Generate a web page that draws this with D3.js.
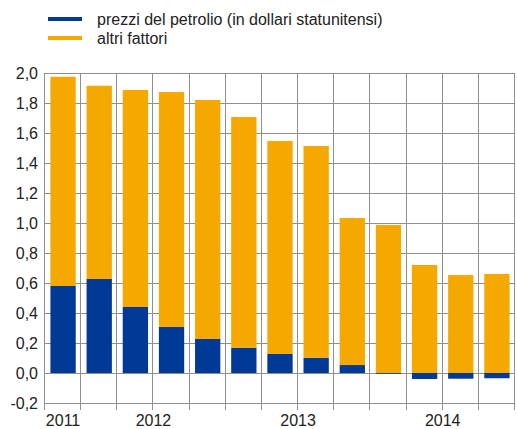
<!DOCTYPE html>
<html>
<head>
<meta charset="utf-8">
<script src="https://cdn.jsdelivr.net/npm/d3@7"></script>
<style>
  body { margin: 0; background: #fff; }
  svg { display: block; font-family: "Liberation Sans", Arial, sans-serif; }
</style>
</head>
<body>
<div id="chart"></div>
<script>

// periods (quarters), oil-price contribution and other factors
var periods = ["2011 T2", "2011 T3", "2011 T4", "2012 T1", "2012 T2", "2012 T3", "2012 T4",
               "2013 T1", "2013 T2", "2013 T3", "2013 T4", "2014 T1", "2014 T2"];
var oil = [0.58, 0.627, 0.44, 0.307, 0.227, 0.169, 0.127, 0.102, 0.053, -0.005, -0.04, -0.038, -0.035];
var other = [1.395, 1.288, 1.447, 1.566, 1.593, 1.538, 1.42, 1.411, 0.98, 0.987, 0.72, 0.653, 0.66];

var seriesNames = ["prezzi del petrolio (in dollari statunitensi)", "altri fattori"];
var seriesColors = ["#003a96", "#f5a800"];

var yTicks = [-0.2, 0, 0.2, 0.4, 0.6, 0.8, 1.0, 1.2, 1.4, 1.6, 1.8, 2.0];
// year labels: index of the period where the label is placed, and where (0 = left edge, 0.5 = centre)
var yearLabels = ["2011", "2012", "2013", "2014"];
var yearAt = [0, 3, 7, 11];
var yearOffset = [0.5, 0, 0, 0];

var width = 517, height = 429;
var margin = {top: 73, right: 2, bottom: 26, left: 45};

var svg = d3.select("#chart").append("svg")
  .attr("width", width)
  .attr("height", height);

var pad = 0.3;
var x = d3.scaleBand()
  .domain(periods)
  .range([margin.left, width - margin.right])
  .paddingInner(pad)
  .paddingOuter(pad / 2);

var y = d3.scaleLinear()
  .domain([-0.2, 2.0])
  .range([height - margin.bottom, margin.top]);

var locale = d3.formatLocale({decimal: ",", thousands: ".", grouping: [3], currency: ["", "€"], minus: "-"});
var fmt = locale.format(".1f");

function leftEdge(i){
  return x(periods[i]) - x.step() * pad / 2;
}

// horizontal grid
svg.append("g")
  .selectAll("line")
  .data(yTicks)
  .join("line")
  .attr("x1", margin.left)
  .attr("x2", width - margin.right)
  .attr("y1", d => Math.round(y(d)) + 0.5)
  .attr("y2", d => Math.round(y(d)) + 0.5)
  .attr("stroke", "#8f8f8f")
  .attr("stroke-width", 1);

// vertical grid, extending a little below the axis
var edges = d3.range(periods.length + 1);
svg.append("g")
  .selectAll("line")
  .data(edges)
  .join("line")
  .attr("x1", d => Math.round(d < periods.length ? leftEdge(d) : width - margin.right) - 0.5)
  .attr("x2", d => Math.round(d < periods.length ? leftEdge(d) : width - margin.right) - 0.5)
  .attr("y1", y(2.0))
  .attr("y2", y(-0.2) + 7)
  .attr("stroke", "#8f8f8f")
  .attr("stroke-width", 1);

// bars
var bars = svg.append("g");
periods.forEach(function(p, i){
  var o = oil[i];
  var base = Math.max(0, o);
  bars.append("rect")
    .attr("x", x(p))
    .attr("width", x.bandwidth())
    .attr("y", y(Math.max(0, o)))
    .attr("height", Math.abs(y(o) - y(0)))
    .attr("fill", seriesColors[0]);
  bars.append("rect")
    .attr("x", x(p))
    .attr("width", x.bandwidth())
    .attr("y", y(base + other[i]))
    .attr("height", y(base) - y(base + other[i]))
    .attr("fill", seriesColors[1]);
});

// y labels
svg.append("g")
  .selectAll("text")
  .data(yTicks)
  .join("text")
  .attr("x", margin.left - 7)
  .attr("y", d => y(d))
  .attr("dy", "0.35em")
  .attr("text-anchor", "end")
  .style("font-size", "16px")
  .attr("fill", "#222")
  .text(d => fmt(d));

// year labels
svg.append("g")
  .selectAll("text")
  .data(yearLabels)
  .join("text")
  .attr("x", (d, i) => leftEdge(yearAt[i]) + x.step() * yearOffset[i])
  .attr("y", height - 3)
  .attr("text-anchor", "middle")
  .style("font-size", "16px")
  .attr("fill", "#222")
  .text(d => d);

// legend
var legend = svg.append("g");
seriesNames.forEach(function(name, i){
  var ly = 19 + i * 19;
  legend.append("rect")
    .attr("x", 48)
    .attr("y", ly - 2)
    .attr("width", 34)
    .attr("height", 4)
    .attr("fill", seriesColors[i]);
  legend.append("text")
    .attr("x", 97)
    .attr("y", ly)
    .attr("dy", "0.35em")
    .style("font-size", "16px")
    .attr("fill", "#222")
    .text(name);
});
</script>
</body>
</html>
